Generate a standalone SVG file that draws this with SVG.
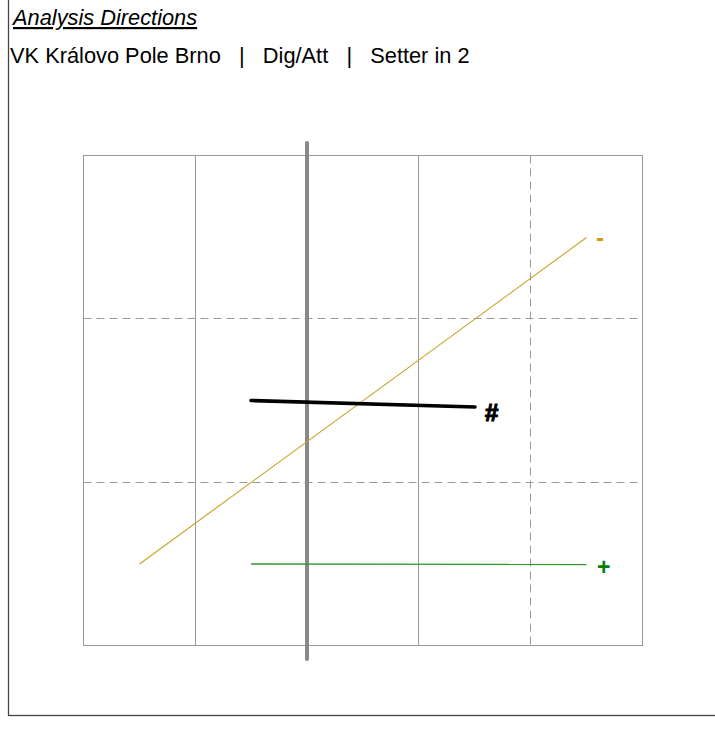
<svg xmlns="http://www.w3.org/2000/svg" width="715" height="731" viewBox="0 0 715 731">
<style>
.t{font-family:"Liberation Sans",Arial,sans-serif;fill:#000}
.grid{stroke:#999;stroke-width:1;fill:none}
.dash{stroke:#999;stroke-width:1;stroke-dasharray:8 5;fill:none}
.lbl{font-family:"Liberation Sans",Arial,sans-serif;font-weight:bold}
</style>
<rect width="715" height="731" fill="#fff"/>
<rect x="8.5" y="-5" width="720" height="720.5" fill="none" stroke="#444" stroke-width="1.3"/>
<g id="header">
<text class="t" x="13" y="25" font-size="21.8" font-style="italic" text-decoration="underline">Analysis Directions</text>
<text class="t" x="10" y="63" font-size="21.8" xml:space="preserve">VK Královo Pole Brno   |   Dig/Att   |   Setter in 2</text>
</g>
<g id="grid">
<rect class="grid" x="83.5" y="155.5" width="559" height="490"/>
<line class="grid" x1="195.5" y1="155.5" x2="195.5" y2="645.5"/>
<line class="grid" x1="418.5" y1="155.5" x2="418.5" y2="645.5"/>
<line class="dash" x1="530.5" y1="155.5" x2="530.5" y2="645.5"/>
<line class="dash" x1="83.5" y1="318.5" x2="642.5" y2="318.5"/>
<line class="dash" x1="83.5" y1="482.5" x2="642.5" y2="482.5"/>
</g>
<g id="connectors">
<line id="axis" x1="307" y1="143" x2="307" y2="659" stroke="#888" stroke-width="4" stroke-linecap="round"/>
<line id="minus-line" x1="139.5" y1="564" x2="586.5" y2="237.5" stroke="#c9a227" stroke-width="1.1"/>
<line id="plus-line" x1="251" y1="564" x2="586.5" y2="564.5" stroke="#2e9a2e" stroke-width="1.3"/>
<line id="hash-line" x1="251" y1="400.5" x2="475" y2="407" stroke="#000" stroke-width="3.6" stroke-linecap="round"/>
</g>
<g id="label-minus"><text class="lbl" x="596" y="246" font-size="24" fill="#c9a000">-</text></g>
<g id="label-plus"><text class="lbl" x="597" y="575" font-size="23" fill="#008000">+</text></g>
<g id="label-hash"><text class="lbl" x="485" y="421" font-size="24" fill="#000" stroke="#000" stroke-width="1.2">#</text></g>
</svg>
